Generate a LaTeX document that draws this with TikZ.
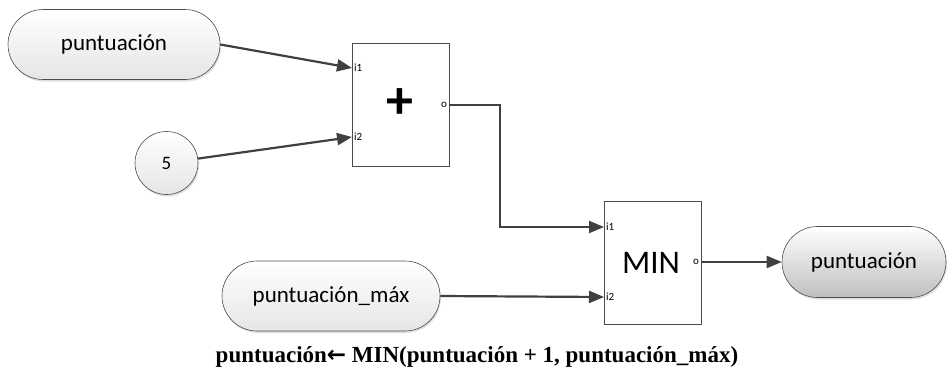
\documentclass[tikz,border=0pt]{standalone}
\usepackage{fontspec}
\setmainfont{Carlito}
\newfontfamily\capfont{Liberation Serif}
\newfontfamily\arrfont{DejaVu Sans}
\usetikzlibrary{shapes.misc,shapes.geometric,arrows.meta,shadows,calc}
\definecolor{linec}{HTML}{404040}
\begin{document}
\begin{tikzpicture}[x=1pt,y=-1pt,
  pill/.style={draw=black!70,line width=0.6pt,rounded rectangle,minimum width=#1,minimum height=70pt,inner sep=0pt,
    top color=white,bottom color=black!10,font=\fontsize{23}{27}\selectfont,
    drop shadow={shadow xshift=1pt,shadow yshift=-2pt,opacity=0.25}},
  pillout/.style={draw=black!70,line width=0.6pt,rounded rectangle,minimum width=#1,minimum height=71pt,inner sep=0pt,
    top color=white,bottom color=black!25,font=\fontsize{23}{27}\selectfont,
    drop shadow={shadow xshift=1pt,shadow yshift=-2pt,opacity=0.25}},
  const/.style={draw=black!70,line width=0.6pt,circle,minimum size=63pt,inner sep=0pt,
    top color=white,bottom color=black!10,font=\fontsize{19}{22}\selectfont,
    drop shadow={shadow xshift=1pt,shadow yshift=-2pt,opacity=0.25}},
  opbox/.style={draw=black!70,line width=0.6pt,fill=white,minimum width=97pt,minimum height=123pt,inner sep=0pt},
  port/.style={font=\fontsize{11}{13}\selectfont,inner sep=0pt},
  wire/.style={draw=linec,line width=2.2pt,-{Triangle[length=15pt,width=12pt]}},
  plainwire/.style={draw=linec,line width=2.2pt}
]
\useasboundingbox (0,0) rectangle (950,383);

\node[pill=212pt] (pin) at (114,44.5) {puntuación};
\node[const] (five) at (166.5,163) {5};
\node[pill=218pt] (pmax) at (331,296) {puntuación\_máx};
\node[pillout=164pt] (pout) at (864,262) {puntuación};

\node[opbox] (plus) at (400.5,104.5) {};
\node[font=\fontsize{54}{54}\selectfont\bfseries] (plussign) at (400,104) {+};
\node[opbox] (min) at (652.5,262.5) {};
\node[font=\fontsize{33}{36}\selectfont] (minlabel) at (651,263) {MIN};

\coordinate (a1) at (352,68);
\coordinate (a2) at (352,137);
\coordinate (ao) at (449,105);
\coordinate (b1) at (604,227);
\coordinate (b2) at (604,297);
\coordinate (bo) at (701,262);

\node[port,anchor=west] (a1l) at (354,68) {i1};
\node[port,anchor=west] (a2l) at (354,137) {i2};
\node[port,anchor=east] (aol) at (447,105) {o};
\node[port,anchor=west] (b1l) at (606,227) {i1};
\node[port,anchor=west] (b2l) at (606,297) {i2};
\node[port,anchor=east] (bol) at (699,262) {o};

\draw[wire] (pin.east) -- (a1);
\draw[wire] (five) -- (a2);
\draw[wire] (ao) -- (500,105) -- (500,227) -- (b1);
\draw[wire] (pmax.east) -- (b2);
\draw[wire] (bo) -- (pout.west);

\node[font=\fontsize{23}{27}\selectfont\bfseries\capfont] (caption) at (477,357)
  {puntuación{\arrfont\bfseries ←} MIN(puntuación + 1, puntuación\_máx)};
\end{tikzpicture}
\end{document}
